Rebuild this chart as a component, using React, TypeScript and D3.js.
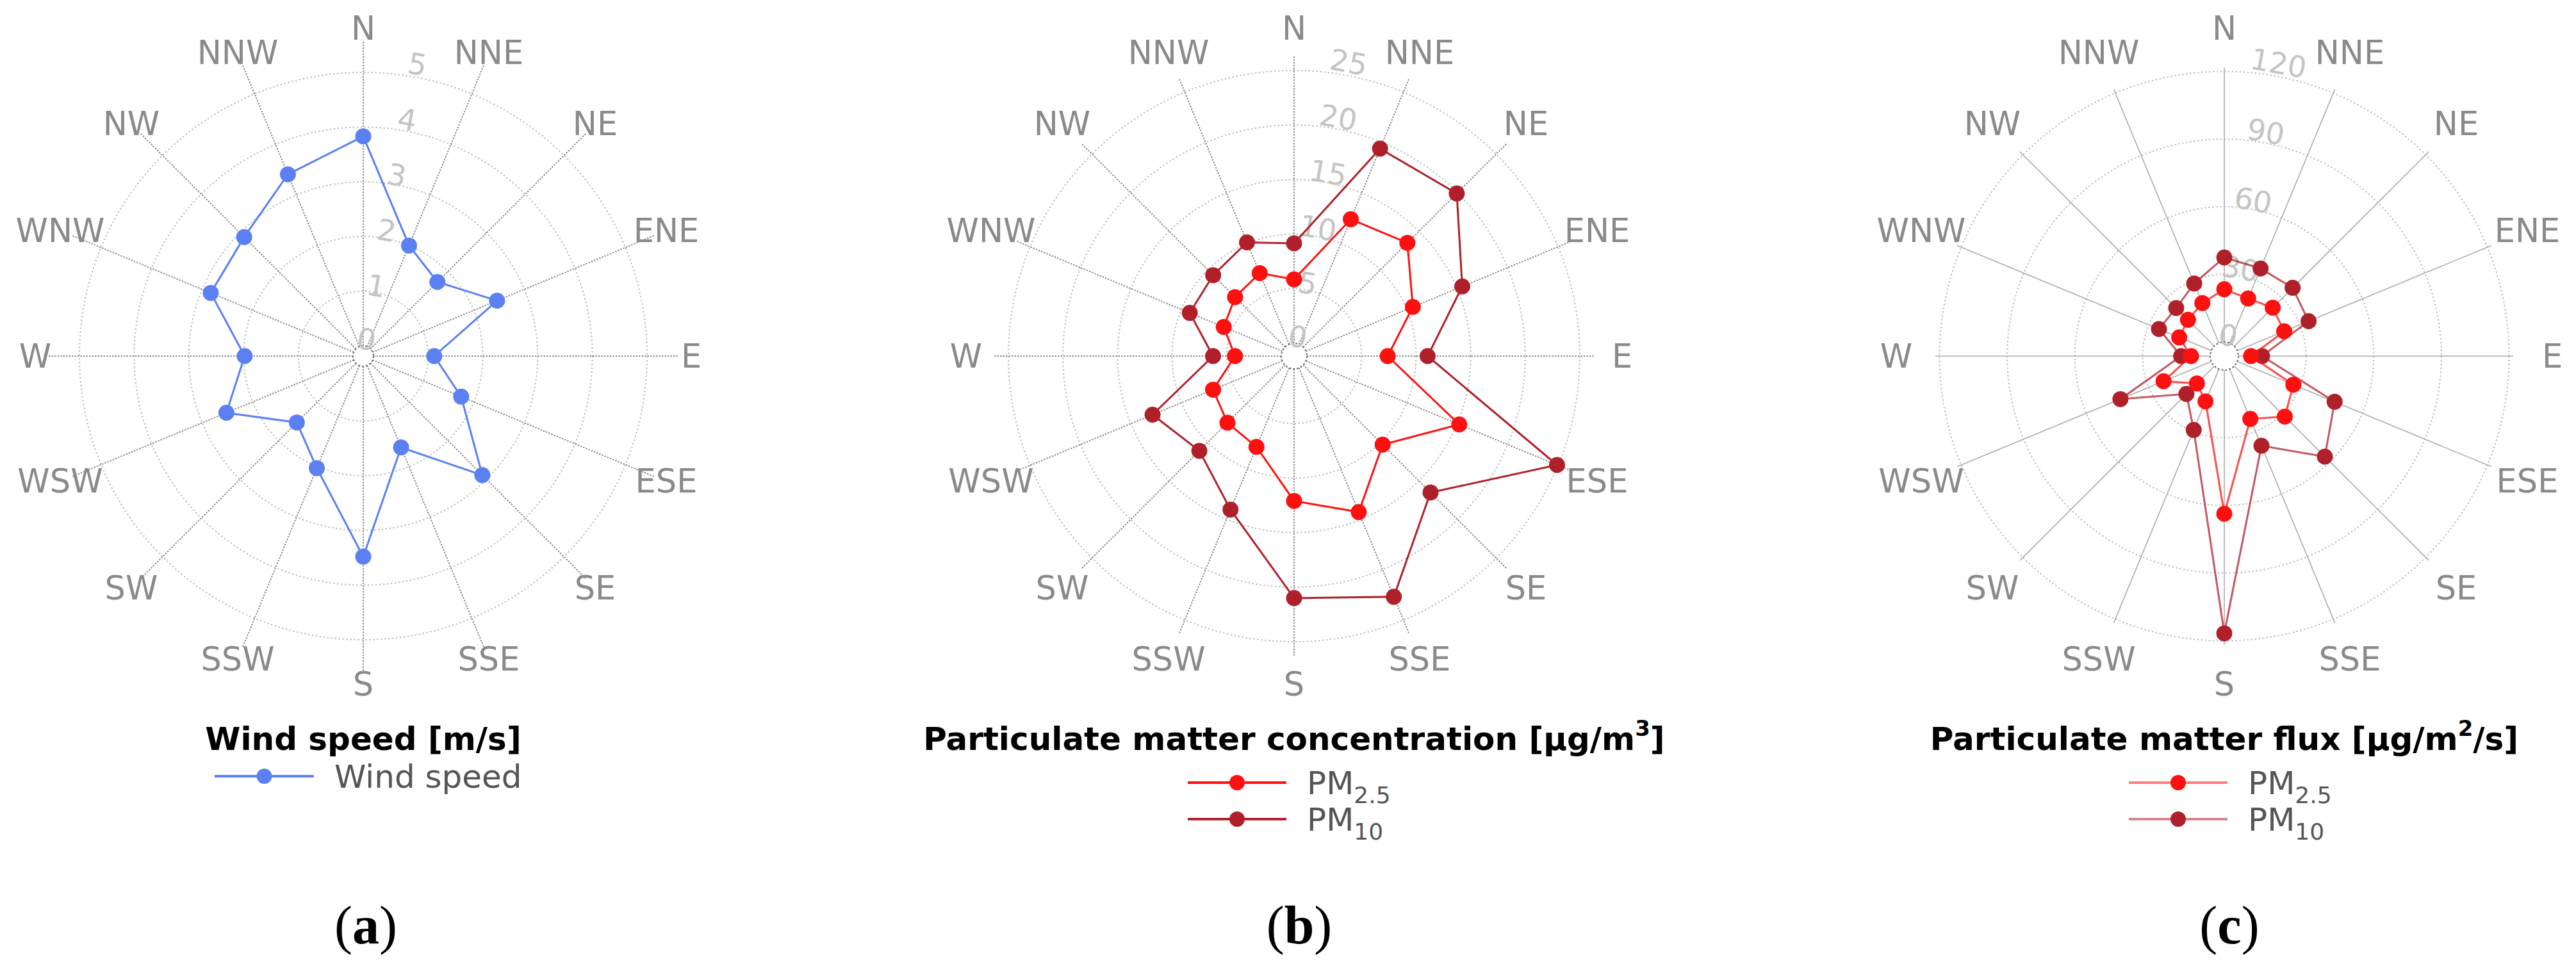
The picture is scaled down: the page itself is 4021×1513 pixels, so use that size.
import React from 'react';
import * as d3 from 'd3';

const DIRECTIONS = ['N', 'NNE', 'NE', 'ENE', 'E', 'ESE', 'SE', 'SSE', 'S', 'SSW', 'SW', 'WSW', 'W', 'WNW', 'NW', 'NNW'];
const WIND_SPEED = [3.83, 2.0, 1.73, 2.46, 1.11, 1.75, 2.89, 1.62, 3.48, 2.03, 1.53, 2.52, 1.98, 2.83, 2.89, 3.41];
const PM25_CONC = [5.86, 12.4, 13.5, 10.6, 7.4, 15.2, 10.3, 14.3, 12.1, 7.83, 7.46, 6.86, 4.24, 5.8, 6.47, 7.05];
const PM10_CONC = [9.16, 19.4, 19.9, 15.5, 11.06, 24.9, 16.5, 22.7, 21.0, 14.05, 11.1, 12.86, 6.25, 9.17, 9.31, 10.1];
const PM25_FLUX = [23.4, 21.4, 24.1, 22.5, 5.6, 26.9, 31.7, 23.9, 63.7, 15.5, 10.9, 22.9, 8.5, 15.4, 16.5, 19.2];
const PM10_FLUX = [37.5, 35.8, 36.6, 34.2, 10.5, 46.7, 56.8, 36.8, 116.7, 29.2, 17.5, 43.6, 12.9, 25.1, 23.9, 28.6];
const WIND_TICKS = [0, 1, 2, 3, 4, 5];
const CONC_TICKS = [0, 5, 10, 15, 20, 25];
const FLUX_TICKS = [0, 30, 60, 90, 120];

const BLUE = '#5b80f2';
const RED = '#ff1010';
const DARK_RED = '#b0202a';
const FONT = '"DejaVu Sans", Verdana, sans-serif';

type Series = { values: number[]; color: string; lineOpacity: number };

type PanelProps = {
  cx: number;
  cy: number;
  hole: number;
  tickTop: number;
  tickTopR: number;
  outerR: number;
  ticks: number[];
  series: Series[];
  solidSpokes: boolean;
};

const angle = d3.scaleLinear().domain([0, DIRECTIONS.length]).range([0, 2 * Math.PI]);

function Panel({ cx, cy, hole, tickTop, tickTopR, outerR, ticks, series, solidSpokes }: PanelProps) {
  const r = d3.scaleLinear().domain([0, tickTop]).range([hole, tickTopR]);
  const line = d3
    .lineRadial<number>()
    .angle((_, i) => angle(i))
    .radius((v) => r(v))
    .curve(d3.curveLinearClosed);
  const labelAng = (10.5 * Math.PI) / 180;
  return (
    <g transform={`translate(${cx},${cy})`}>
      {ticks.filter((t) => t > 0).map((t) => (
        <circle key={'ring' + t} r={r(t)} fill="none" stroke="#bdbdbd" strokeWidth={2} strokeDasharray="2.5,3.5" />
      ))}
      {DIRECTIONS.map((d, i) => {
        const a = angle(i);
        const s = Math.sin(a);
        const c = -Math.cos(a);
        return (
          <line
            key={'spoke' + d}
            x1={hole * s}
            y1={hole * c}
            x2={outerR * s}
            y2={outerR * c}
            stroke={solidSpokes ? '#ababab' : '#8e8e8e'}
            strokeWidth={solidSpokes ? 1.6 : 2}
            strokeDasharray={solidSpokes ? undefined : '2.5,2'}
          />
        );
      })}
      <circle r={hole} fill="white" stroke="#666" strokeWidth={2} strokeDasharray="3,3" />
      {ticks.map((t) => {
        const rr = r(t) * 1.03 + (t === 0 ? 10 : 7);
        return (
          <text
            key={'tick' + t}
            transform={`translate(${rr * Math.sin(labelAng)},${-rr * Math.cos(labelAng)}) rotate(10)`}
            textAnchor="middle"
            dominantBaseline="central"
            fontFamily={FONT}
            fontSize={46}
            fill="#c4c4c4"
          >
            {t}
          </text>
        );
      })}
      {DIRECTIONS.map((d, i) => {
        const a = angle(i);
        const lr = 512;
        return (
          <text
            key={'lab' + d}
            x={lr * Math.sin(a)}
            y={-lr * Math.cos(a)}
            textAnchor="middle"
            dominantBaseline="central"
            fontFamily={FONT}
            fontSize={51}
            fill="#8a8a8a"
          >
            {d}
          </text>
        );
      })}
      {series.map((s, si) => (
        <g key={'series' + si}>
          <path d={line(s.values) || ''} fill="none" stroke={s.color} strokeWidth={3} strokeOpacity={s.lineOpacity} />
          {s.values.map((v, i) => {
            const a = angle(i);
            return <circle key={i} cx={r(v) * Math.sin(a)} cy={-r(v) * Math.cos(a)} r={12.5} fill={s.color} />;
          })}
        </g>
      ))}
    </g>
  );
}

function LegendRow({ x1, x2, y, color, opacity, children }: { x1: number; x2: number; y: number; color: string; opacity: number; children: React.ReactNode }) {
  return (
    <g>
      <line x1={x1} x2={x2} y1={y} y2={y} stroke={color} strokeWidth={4} strokeOpacity={opacity} />
      <circle cx={(x1 + x2) / 2} cy={y} r={12} fill={color} />
      <text x={x2 + 32} y={y + 18} fontFamily={FONT} fontSize={50} fill="#555">
        {children}
      </text>
    </g>
  );
}

function PM({ sub }: { sub: string }) {
  return (
    <>
      PM
      <tspan fontSize={36} dy={14}>
        {sub}
      </tspan>
    </>
  );
}

export default function App() {
  const cy = 556;
  const A = 567;
  const B = 2020;
  const C = 3472;
  const titleY = 1171;
  return (
    <svg width={4021} height={1513} style={{ position: 'absolute', left: 0, top: 0, background: 'white' }}>
      <rect width={4021} height={1513} fill="white" />
      <Panel
        cx={A}
        cy={cy}
        hole={16}
        tickTop={5}
        tickTopR={443}
        outerR={491}
        ticks={WIND_TICKS}
        series={[{ values: WIND_SPEED, color: BLUE, lineOpacity: 1 }]}
        solidSpokes={false}
      />
      <Panel
        cx={B}
        cy={cy}
        hole={20}
        tickTop={25}
        tickTopR={446}
        outerR={470}
        ticks={CONC_TICKS}
        series={[
          { values: PM25_CONC, color: RED, lineOpacity: 1 },
          { values: PM10_CONC, color: DARK_RED, lineOpacity: 1 },
        ]}
        solidSpokes={false}
      />
      <Panel
        cx={C}
        cy={cy}
        hole={22}
        tickTop={120}
        tickTopR={444.5}
        outerR={451}
        ticks={FLUX_TICKS}
        series={[
          { values: PM10_FLUX, color: DARK_RED, lineOpacity: 0.75 },
          { values: PM25_FLUX, color: RED, lineOpacity: 0.75 },
        ]}
        solidSpokes={true}
      />

      <text x={A} y={titleY} textAnchor="middle" fontFamily={FONT} fontWeight="bold" fontSize={50} fill="#000">
        Wind speed [m/s]
      </text>
      <text x={B} y={titleY} textAnchor="middle" fontFamily={FONT} fontWeight="bold" fontSize={50} fill="#000">
        Particulate matter concentration [μg/m
        <tspan fontSize={34} dy={-22}>3</tspan>
        <tspan dy={22}>]</tspan>
      </text>
      <text x={C} y={titleY} textAnchor="middle" fontFamily={FONT} fontWeight="bold" fontSize={50} fill="#000">
        Particulate matter flux [μg/m
        <tspan fontSize={34} dy={-22}>2</tspan>
        <tspan dy={22}>/s]</tspan>
      </text>

      <LegendRow x1={335} x2={490} y={1212} color={BLUE} opacity={1}>
        Wind speed
      </LegendRow>
      <LegendRow x1={1854} x2={2008} y={1222} color={RED} opacity={1}>
        <PM sub="2.5" />
      </LegendRow>
      <LegendRow x1={1854} x2={2008} y={1279} color={DARK_RED} opacity={1}>
        <PM sub="10" />
      </LegendRow>
      <LegendRow x1={3323} x2={3477} y={1222} color={RED} opacity={0.55}>
        <PM sub="2.5" />
      </LegendRow>
      <LegendRow x1={3323} x2={3477} y={1279} color={DARK_RED} opacity={0.55}>
        <PM sub="10" />
      </LegendRow>

      {[
        { x: A + 4, l: 'a' },
        { x: B + 8, l: 'b' },
        { x: C + 8, l: 'c' },
      ].map((c) => (
        <text key={c.l} x={c.x} y={1473} textAnchor="middle" fontFamily='"Liberation Serif", "Times New Roman", serif' fontSize={84} fill="#000">
          (<tspan fontWeight="bold">{c.l}</tspan>)
        </text>
      ))}
    </svg>
  );
}
